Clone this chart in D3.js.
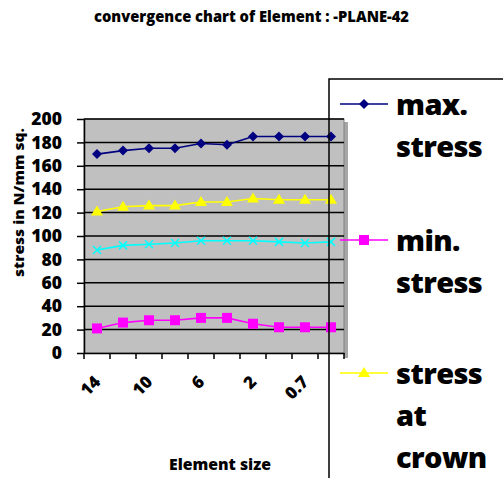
<!DOCTYPE html>
<html><head><meta charset="utf-8">
<script src="https://cdn.jsdelivr.net/npm/d3@7"></script>
<style>body{margin:0;background:#fff}svg{display:block}text{font-family:"Open Sans",sans-serif;font-weight:800}</style>
</head><body>
<script>
const categories = ["14","12","10","8","6","4","2","1","0.7","0.5"];
const shownLabels = ["14","10","6","2","0.7"];
const maxStress = [170,173,175,175,179,178,185,185,185,185];
const minStress = [21,26,28,28,30,30,25,22,22,22];
const crownStress = [121,125,126,126,129,129,132,131,131,131];
const otherStress = [88,92,93,94,96,96,96,95,94,95];
const yTicks = [0,20,40,60,80,100,120,140,160,180,200];

const W=503,H=478;
const svg=d3.select("body").append("svg").attr("width",W).attr("height",H);
const m={l:84,t:119,r:344,b:353};
const x=d3.scaleBand().domain(categories).range([m.l,m.r]);
const y=d3.scaleLinear().domain([0,200]).range([m.b,m.t]);

svg.append("text").attr("x",94).attr("y",22).attr("font-size",15.5)
 .attr("textLength",315).attr("lengthAdjust","spacingAndGlyphs").text("convergence chart of Element :  -PLANE-42");

// shadow (right side)
svg.append("rect").attr("x",m.r).attr("y",m.t+3).attr("width",4).attr("height",m.b-m.t+2).attr("fill","#a6a6a6");
svg.append("rect").attr("x",m.l).attr("y",m.t).attr("width",m.r-m.l).attr("height",m.b-m.t).attr("fill","#c0c0c0").attr("stroke","#808080").attr("stroke-width",1);
svg.append("g").selectAll("line").data(yTicks.slice(1)).join("line")
 .attr("x1",m.l).attr("x2",m.r).attr("y1",d=>y(d)).attr("y2",d=>y(d)).attr("stroke","#000").attr("stroke-width",1.5);

const ya=svg.append("g").attr("transform",`translate(${m.l},0)`).call(d3.axisLeft(y).tickValues(yTicks).tickSize(7).tickSizeOuter(0).tickPadding(15));
ya.selectAll("text").attr("font-size",17.5).attr("font-family","Open Sans").attr("font-weight",800).attr("fill","#000");
ya.select(".domain").attr("stroke-width",1.5);
ya.selectAll(".tick line").attr("stroke-width",1.5);

const xa=svg.append("g").attr("transform",`translate(0,${m.b})`).call(d3.axisBottom(x).tickSize(0).tickFormat(""));
xa.select(".domain").attr("stroke-width",1.5);
svg.append("g").selectAll("line").data(d3.range(categories.length+1)).join("line")
 .attr("x1",i=>m.l+i*x.step()).attr("x2",i=>m.l+i*x.step()).attr("y1",m.b).attr("y2",m.b+6).attr("stroke","#000").attr("stroke-width",1.5);
svg.append("g").selectAll("text").data(shownLabels).join("text")
 .attr("transform",d=>`translate(${x(d)+x.bandwidth()/2+4.5},${m.b+30}) rotate(-45)`)
 .attr("text-anchor","end").attr("font-size",17).text(d=>d);

svg.append("text").attr("transform",`translate(24,277) rotate(-90)`).attr("font-size",14)
 .attr("textLength",149).attr("lengthAdjust","spacingAndGlyphs").text("stress in  N/mm sq.");
svg.append("text").attr("x",169).attr("y",470).attr("font-size",16)
 .attr("textLength",102).attr("lengthAdjust","spacingAndGlyphs").text("Element size");

const cx=d=>x(d)+x.bandwidth()/2;
const series=[
 {v:otherStress,c:"#00ffff",m:"x"},
 {v:minStress,c:"#ff00ff",m:"square"},
 {v:crownStress,c:"#ffff00",m:"triangle"},
 {v:maxStress,c:"#000080",m:"diamond"}];
function marker(g,type,c){
 if(type==="x"){g.append("path").attr("d","M-4,-4L4,4M-4,4L4,-4").attr("stroke",c).attr("stroke-width",1.5);}
 else if(type==="square"){g.append("rect").attr("x",-5).attr("y",-5).attr("width",10).attr("height",10).attr("fill",c);}
 else if(type==="triangle"){g.append("path").attr("d","M0,-6L6,4L-6,4Z").attr("fill",c);}
 else {g.append("path").attr("d","M0,-5L5,0L0,5L-5,0Z").attr("fill",c);}
}
const line=d3.line().x((d,i)=>cx(categories[i])).y(d=>y(d));
series.forEach(s=>{
 svg.append("path").attr("d",line(s.v)).attr("fill","none").attr("stroke",s.c).attr("stroke-width",1.6);
 s.v.forEach((v,i)=>{const g=svg.append("g").attr("transform",`translate(${cx(categories[i])},${y(v)})`);marker(g,s.m,s.c);});
});

// legend box
svg.append("rect").attr("x",329).attr("y",79).attr("width",200).attr("height",420).attr("fill","none").attr("stroke","#000").attr("stroke-width",1.5);
const legend=[
 {lines:["max.","stress"],c:"#000080",m:"diamond",y:104},
 {lines:["min.","stress"],c:"#ff00ff",m:"square",y:240},
 {lines:["stress","at","crown"],c:"#ffff00",m:"triangle",y:373}];
legend.forEach(l=>{
 svg.append("line").attr("x1",340).attr("x2",388).attr("y1",l.y).attr("y2",l.y).attr("stroke",l.c).attr("stroke-width",1.6);
 const g=svg.append("g").attr("transform",`translate(364,${l.y})`);marker(g,l.m,l.c);
 l.lines.forEach((t,i)=>svg.append("text").attr("x",396).attr("y",l.y+11+i*42).attr("font-size",29).attr("letter-spacing",-0.6).text(t));
});
</script>
</body></html>
